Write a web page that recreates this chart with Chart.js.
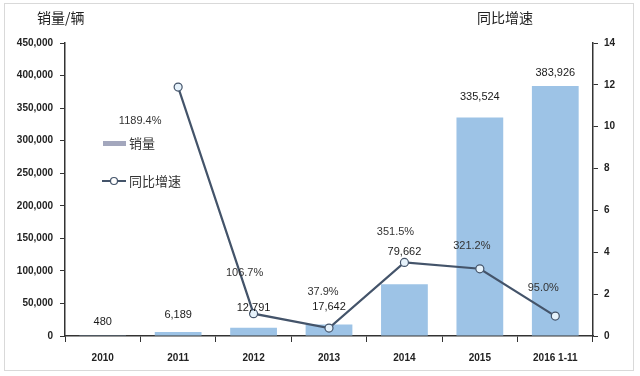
<!DOCTYPE html>
<html><head><meta charset="utf-8">
<script src="https://cdn.jsdelivr.net/npm/chart.js@4/dist/chart.umd.min.js"></script>
<style>html,body{margin:0;padding:0;background:#fff}#wrap{width:640px;height:376px}</style>
</head><body><div id="wrap"><canvas id="c" width="640" height="376"></canvas></div>
<script>
const categories = ['2010','2011','2012','2013','2014','2015','2016 1-11'];
const salesVolume = [480, 6189, 12791, 17642, 79662, 335524, 383926];
const growthRate = [null, 11.894, 1.067, 0.379, 3.515, 3.212, 0.95];
const growthLabels = ['', '1189.4%', '106.7%', '37.9%', '351.5%', '321.2%', '95.0%'];
const salesLabels = ['480', '6,189', '12,791', '17,642', '79,662', '335,524', '383,926'];

// label offsets (style, not data)
const salesLabelDy = [-14, -17, -20, -18, -32, -21, -13];
const growthLabelOff = [[0,0],[-38,34],[-9,-41],[-6,-36],[-9,-30],[-8,-23],[-12,-28]];

const FONT = '"Liberation Sans", Arial, sans-serif';
const CJK = '"Noto Sans CJK SC", sans-serif';

const deco = {
  id: 'deco',
  beforeDraw(chart) {
    const ctx = chart.ctx;
    ctx.save();
    ctx.fillStyle = '#fff';
    ctx.fillRect(0, 0, chart.width, chart.height);
    ctx.strokeStyle = '#d9d9d9';
    ctx.lineWidth = 1;
    ctx.strokeRect(4.5, 3.5, 629, 367);
    ctx.restore();
  },
  afterDatasetsDraw(chart) {
    const ctx = chart.ctx;
    ctx.save();
    const barMeta = chart.getDatasetMeta(0);
    ctx.font = '11px ' + FONT;
    ctx.fillStyle = '#1a1a1a';
    ctx.textAlign = 'center';
    ctx.textBaseline = 'middle';
    barMeta.data.forEach((b, i) => {
      ctx.fillText(salesLabels[i], b.x, b.y + salesLabelDy[i]);
    });
    const lineMeta = chart.getDatasetMeta(1);
    ctx.fillStyle = '#333';
    lineMeta.data.forEach((p, i) => {
      if (growthRate[i] == null) return;
      ctx.fillText(growthLabels[i], p.x + growthLabelOff[i][0], p.y + growthLabelOff[i][1]);
    });
    ctx.font = '14px ' + CJK;
    ctx.fillStyle = '#222';
    ctx.textAlign = 'left';
    ctx.fillText('销量/辆', 37, 18);
    ctx.fillText('同比增速', 477, 18);
    ctx.fillStyle = '#a3a7bd';
    ctx.fillRect(103, 141, 23, 5);
    ctx.strokeStyle = '#44546A';
    ctx.lineWidth = 2;
    ctx.beginPath(); ctx.moveTo(102, 181); ctx.lineTo(126, 181); ctx.stroke();
    ctx.fillStyle = '#fff';
    ctx.lineWidth = 1.2;
    ctx.beginPath(); ctx.arc(114, 181, 3.5, 0, Math.PI * 2); ctx.fill(); ctx.stroke();
    ctx.font = '13px ' + CJK;
    ctx.fillStyle = '#333';
    ctx.fillText('销量', 129, 143);
    ctx.fillText('同比增速', 129, 181);
    ctx.restore();
  }
};

new Chart(document.getElementById('c'), {
  data: {
    labels: categories,
    datasets: [
      {
        type: 'bar', label: '销量', data: salesVolume, yAxisID: 'y',
        backgroundColor: '#9dc3e6', categoryPercentage: 1, barPercentage: 0.62, order: 2
      },
      {
        type: 'line', label: '同比增速', data: growthRate, yAxisID: 'y1',
        borderColor: '#44546A', borderWidth: 2.2, pointRadius: 4, pointBackgroundColor: '#e6f2fb',
        pointBorderColor: '#44546A', pointBorderWidth: 1.2, tension: 0, spanGaps: false, order: 1
      }
    ]
  },
  options: {
    responsive: false, animation: false, devicePixelRatio: 1,
    layout: { padding: { top: 43, left: 0, right: 0, bottom: 0 } },
    plugins: { legend: { display: false }, tooltip: { enabled: false } },
    scales: {
      x: {
        grid: { display: true, drawOnChartArea: false, tickLength: 6, color: '#333', offset: true },
        border: { display: true, color: '#333', width: 1.5 },
        ticks: { font: { family: FONT, size: 10, weight: 'bold' }, color: '#222', padding: 10, maxRotation: 0 },
        afterFit(s) { s.height = 40; }
      },
      y: {
        position: 'left', min: 0, max: 450000,
        grid: { display: true, drawOnChartArea: false, tickLength: 5, color: '#333' },
        border: { display: true, color: '#333', width: 1.5 },
        ticks: { stepSize: 50000, font: { family: FONT, size: 10, weight: 'bold' }, color: '#222', padding: 7,
          callback: v => v.toLocaleString('en-US') },
        afterFit(s) { s.width = 65; }
      },
      y1: {
        position: 'right', min: 0, max: 14,
        grid: { display: true, drawOnChartArea: false, tickLength: 5, color: '#333' },
        border: { display: true, color: '#333', width: 1.5 },
        ticks: { stepSize: 2, font: { family: FONT, size: 10, weight: 'bold' }, color: '#222', padding: 6 },
        afterFit(s) { s.width = 47; }
      }
    }
  },
  plugins: [deco]
});
</script></body></html>
